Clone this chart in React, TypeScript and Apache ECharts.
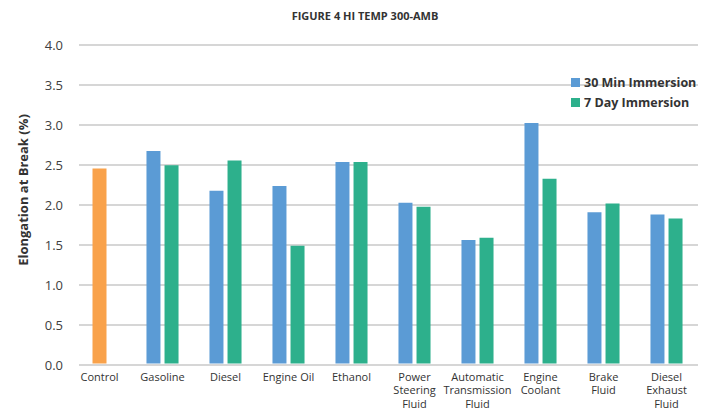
import React, { useEffect, useRef } from "react";
import * as echarts from "echarts";

const categories = [
  "Control",
  "Gasoline",
  "Diesel",
  "Engine Oil",
  "Ethanol",
  "Power\nSteering\nFluid",
  "Automatic\nTransmission\nFluid",
  "Engine\nCoolant",
  "Brake\nFluid",
  "Diesel\nExhaust\nFluid",
];
const controlValues = [2.45, null, null, null, null, null, null, null, null, null];
const min30Values = [null, 2.67, 2.17, 2.23, 2.53, 2.02, 1.55, 3.02, 1.9, 1.87];
const day7Values = [null, 2.49, 2.55, 1.48, 2.53, 1.97, 1.58, 2.32, 2.01, 1.82];
const yTicks = [0, 0.5, 1, 1.5, 2, 2.5, 3, 3.5, 4];

const FONT = "'Open Sans', 'Noto Sans', sans-serif";

export default function App() {
  const ref = useRef<HTMLDivElement>(null);
  useEffect(() => {
    if (!ref.current) return;
    const chart = echarts.init(ref.current, null, { renderer: "svg" });
    const yMin = yTicks[0];
    const yMax = yTicks[yTicks.length - 1];
    const step = yTicks[1] - yTicks[0];
    chart.setOption({
      animation: false,
      backgroundColor: "#ffffff",
      textStyle: { fontFamily: FONT },
      title: {
        text: "FIGURE 4 HI TEMP 300-AMB",
        left: 360,
        textAlign: "center",
        top: 5,
        textStyle: { fontFamily: FONT, fontSize: 11, fontWeight: "bold", color: "#333333" },
      },
      legend: {
        data: ["30 Min Immersion", "7 Day Immersion"],
        orient: "vertical",
        left: 566,
        top: 71,
        itemWidth: 9,
        itemHeight: 9,
        itemGap: 7,
        icon: "rect",
        textStyle: { fontFamily: FONT, fontSize: 12.5, fontWeight: "bold", color: "#333333", padding: [0, 0, 0, -1] },
      },
      graphic: [
        {
          type: "text",
          x: 23,
          y: 190,
          rotation: Math.PI / 2,
          style: {
            text: "Elongation at Break (%)",
            textAlign: "center",
            textVerticalAlign: "middle",
            fontFamily: FONT,
            fontSize: 13,
            fontWeight: "bold",
            fill: "#333333",
          },
        },
      ],
      grid: [
        { left: 79, right: 13, top: 45, bottom: 45 },
        { left: 68, right: 13, top: 45, bottom: 45 },
      ],
      xAxis: [
        {
          type: "category",
          gridIndex: 0,
          data: categories,
          show: false,
        },
        {
          type: "category",
          gridIndex: 1,
          data: categories,
          axisLine: { show: false },
          axisTick: { show: false },
          axisLabel: {
            interval: 0,
            margin: 6,
            fontFamily: FONT,
            fontSize: 11,
            lineHeight: 13.5,
            color: "#333333",
          },
        },
        {
          type: "category",
          gridIndex: 1,
          data: categories,
          show: false,
        },
      ],
      yAxis: [
        {
          type: "value",
          gridIndex: 0,
          min: yMin,
          max: yMax,
          interval: step,
          axisLine: { show: false },
          axisTick: { show: false },
          axisLabel: {
            margin: 16,
            fontFamily: FONT,
            fontSize: 13,
            color: "#404040",
            formatter: (v: number) => v.toFixed(1),
          },
          splitLine: { show: true, lineStyle: { color: "#d6d6d6", width: 2 } },
        },
        {
          type: "value",
          gridIndex: 1,
          min: yMin,
          max: yMax,
          interval: step,
          show: false,
          splitLine: { show: false },
        },
      ],
      series: [
        {
          name: "30 Min Immersion",
          type: "bar",
          xAxisIndex: 1,
          yAxisIndex: 1,
          data: min30Values,
          barWidth: 14,
          barGap: "29%",
          itemStyle: { color: "#5b9bd5" },
        },
        {
          name: "7 Day Immersion",
          type: "bar",
          xAxisIndex: 1,
          yAxisIndex: 1,
          data: day7Values,
          barWidth: 14,
          barGap: "29%",
          itemStyle: { color: "#2db08c" },
        },
        {
          name: "Control",
          type: "bar",
          xAxisIndex: 2,
          yAxisIndex: 1,
          data: controlValues,
          barWidth: 14,
          itemStyle: { color: "#f9a24b" },
        },
      ],
    });
    return () => chart.dispose();
  }, []);
  return (
    <div
      ref={ref}
      style={{ position: "fixed", left: 0, top: 0, width: 711, height: 410 }}
    />
  );
}
